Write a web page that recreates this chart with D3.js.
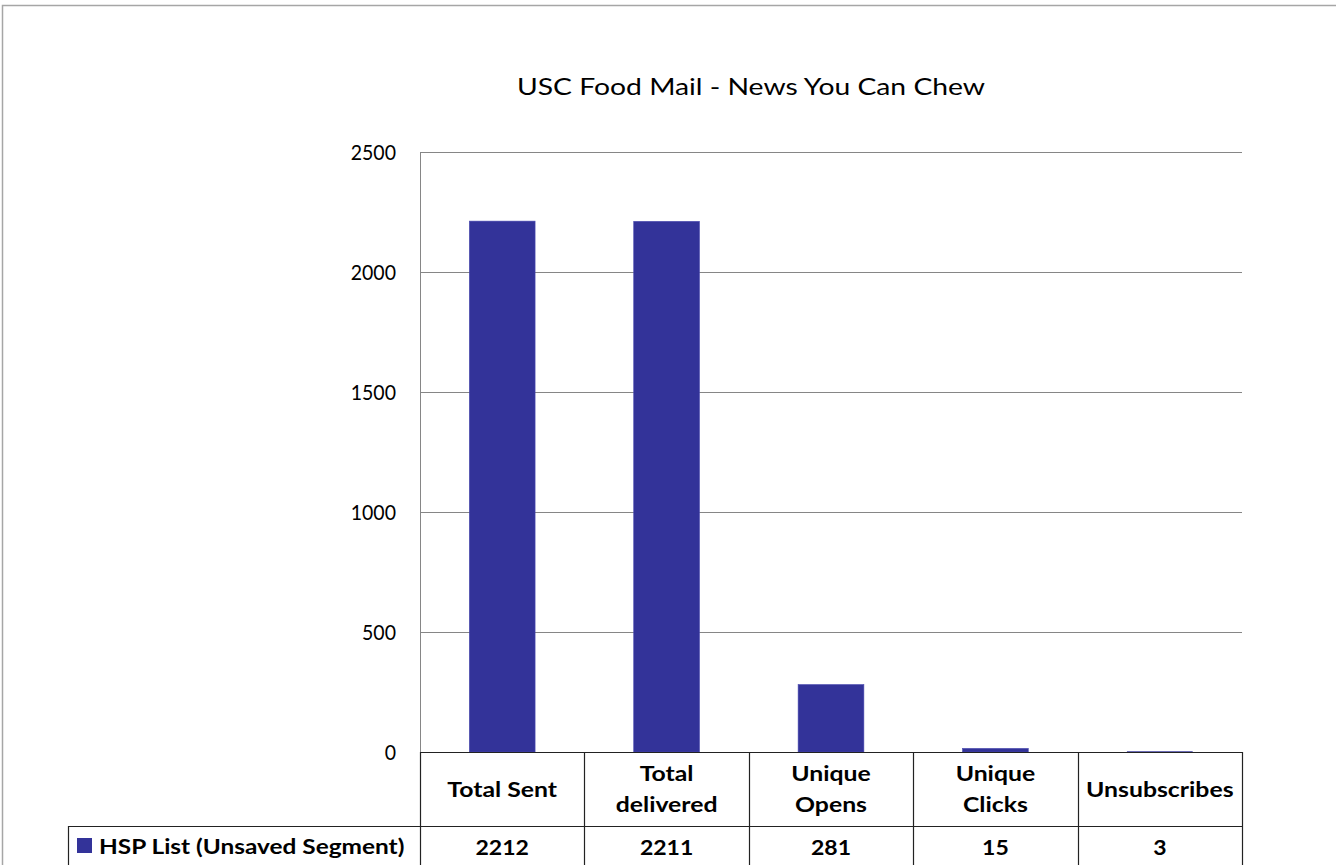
<!DOCTYPE html>
<html><head><meta charset="utf-8">
<script src="https://cdn.jsdelivr.net/npm/d3@7"></script>
<style>
body{margin:0;background:#fff;}
svg{display:block;font-family:Lato,"Open Sans",sans-serif;}
</style></head><body>
<svg id="c" width="1336" height="865"></svg>
<script>
const categories = ["Total Sent","Total delivered","Unique Opens","Unique Clicks","Unsubscribes"];
const headerLines = [["Total Sent"],["Total","delivered"],["Unique","Opens"],["Unique","Clicks"],["Unsubscribes"]];
const seriesName = "HSP List (Unsaved Segment)";
const values = [2212, 2211, 281, 15, 3];
const yTicks = [0, 500, 1000, 1500, 2000, 2500];
const title = "USC Food Mail - News You Can Chew";

const svg = d3.select("#c");
const L = 420, R = 1242, T = 152, B = 752;
const x = d3.scaleBand().domain(categories).range([L, R]).paddingInner(0).paddingOuter(0);
const y = d3.scaleLinear().domain([0, 2500]).range([B, T]);

function txt(g, px, py, s, opts) {
  return g.append("text")
    .attr("transform", `translate(${px},${py}) scale(${opts.sx||1},1)`)
    .attr("x", 0).attr("y", 0)
    .attr("font-size", opts.size)
    .attr("font-weight", opts.bold ? "bold" : "normal")
    .attr("text-anchor", opts.anchor || "start")
    .attr("fill", "#000")
    .text(s);
}

// outer chart border
svg.append("path").attr("d", "M2.5,865 V5.5 H1336").attr("fill","none").attr("stroke","#a6a6a6").attr("stroke-width",1.5);

// title
txt(svg, 751, 95, title, {size: 23, sx: 1.23, anchor: "middle"});

// gridlines
svg.append("g").selectAll("line").data(yTicks).join("line")
  .attr("x1", L).attr("x2", R).attr("y1", d=>Math.round(y(d))+0.5).attr("y2", d=>Math.round(y(d))+0.5)
  .attr("stroke","#868686").attr("stroke-width",1);

// y axis line
svg.append("line").attr("x1", L+0.5).attr("x2", L+0.5).attr("y1", T).attr("y2", B).attr("stroke","#868686");

// y tick labels
const tickG = svg.append("g");
yTicks.forEach(d => txt(tickG, 396, y(d) + 7.5, d, {size: 21, sx: 0.93, anchor: "end"}));

// bars
const bw = x.bandwidth()*0.4;
svg.append("g").selectAll("rect").data(values).join("rect")
  .attr("x", (d,i)=>x(categories[i]) + (x.bandwidth()-bw)/2)
  .attr("y", d=>y(d)).attr("width", bw).attr("height", d=>B - y(d))
  .attr("fill","#333399")
  .attr("stroke", d => (B - y(d)) > 3 ? "#4a4ab0" : "none").attr("stroke-width",0.6);

// data table
const rowTop = B, rowMid = 826, rowBot = 900;
const tg = svg.append("g").attr("stroke","#222").attr("stroke-width",1.2).attr("fill","none");
tg.append("line").attr("x1",L).attr("x2",R).attr("y1",rowTop+0.5).attr("y2",rowTop+0.5);
tg.append("line").attr("x1",68).attr("x2",R).attr("y1",rowMid+0.5).attr("y2",rowMid+0.5);
tg.append("line").attr("x1",68.5).attr("x2",68.5).attr("y1",rowMid).attr("y2",rowBot);
const bounds = categories.map(c=>x(c)).concat([R]);
tg.selectAll("line.v").data(bounds).join("line").attr("class","v")
  .attr("x1",d=>Math.round(d)+0.5).attr("x2",d=>Math.round(d)+0.5).attr("y1",rowTop).attr("y2",rowBot);

// header text
const hg = svg.append("g");
headerLines.forEach((lines,i)=>{
  const cx = x(categories[i]) + x.bandwidth()/2;
  const lh = 31;
  const base = lines.length === 1 ? [797] : [781, 781 + lh];
  lines.forEach((ln,j)=> txt(hg, cx, base[j], ln, {size: 20, bold: true, sx: 1.24, anchor: "middle"}));
});

// values row
const vg = svg.append("g");
values.forEach((v,i)=> txt(vg, x(categories[i])+x.bandwidth()/2, 855, v, {size: 20, bold: true, sx: 1.15, anchor: "middle"}));

// legend key
svg.append("rect").attr("x",77).attr("y",838).attr("width",15).attr("height",15).attr("fill","#333399");
txt(svg, 99, 854, seriesName, {size: 20, bold: true, sx: 1.22});
</script>
</body></html>
